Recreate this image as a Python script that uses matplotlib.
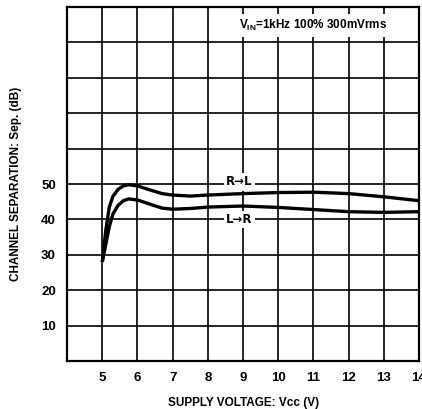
import matplotlib
matplotlib.use("Agg")
import matplotlib.pyplot as plt

# supply voltage (V) and channel separation (dB)
vcc = [5.0, 5.1, 5.2, 5.3, 5.45, 5.6, 5.75, 6.0, 6.3, 6.7, 7.0, 7.5, 8.0, 9.0, 10.0, 11.0, 12.0, 13.0, 14.0]
sep_rl = [28, 37, 43.5, 46.5, 48.5, 49.5, 49.8, 49.5, 48.5, 47.3, 46.9, 46.6, 46.9, 47.3, 47.6, 47.7, 47.3, 46.4, 45.3]
sep_lr = [28, 33, 38, 41.5, 44, 45.3, 45.8, 45.5, 44.5, 43.2, 42.9, 43.1, 43.5, 43.8, 43.4, 42.8, 42.2, 42.0, 42.2]

x_ticks = [5, 6, 7, 8, 9, 10, 11, 12, 13, 14]
y_ticks = [0, 10, 20, 30, 40, 50, 60, 70, 80, 90, 100]
y_labels = ["", "10", "20", "30", "40", "50", "", "", "", "", ""]

plt.rcParams['font.family'] = ['Liberation Sans Narrow', 'Liberation Sans', 'DejaVu Sans']
plt.rcParams['font.weight'] = 'bold'
plt.rcParams['axes.labelweight'] = 'bold'

fig = plt.figure(figsize=(4.22, 4.09), dpi=100)
ax = fig.add_axes([0.159, 0.117, 0.834, 0.866])

ax.plot(vcc, sep_rl, color="black", lw=2.4, solid_capstyle="butt", zorder=3)
ax.plot(vcc, sep_lr, color="black", lw=2.4, solid_capstyle="butt", zorder=3)

ax.set_xlim(4, 14)
ax.set_ylim(0, 100)
ax.set_xticks(x_ticks)
ax.set_xticklabels([str(v) for v in x_ticks])
ax.set_yticks(y_ticks)
ax.set_yticklabels(y_labels)
ax.tick_params(length=0, labelsize=9.5, pad=8)
ax.grid(True, color="black", lw=1.2)
for s in ax.spines.values():
    s.set_linewidth(1.6)

arrow_fonts = ['DejaVu Sans']
box = dict(facecolor="white", edgecolor="none", pad=1.5)
ax.text(8.9, 50.6, "R→L", ha="center", va="center", fontsize=8.5, family=arrow_fonts,
        bbox=box, zorder=4)
ax.text(8.9, 40, "L→R", ha="center", va="center", fontsize=8.5, family=arrow_fonts,
        bbox=box, zorder=4)
ax.text(11.0, 94.8, r"V$_{\mathregular{IN}}$=1kHz 100% 300mVrms", ha="center", va="center",
        fontsize=8.5, bbox=dict(facecolor="white", edgecolor="none", pad=3), zorder=4)

ax.set_xlabel("SUPPLY VOLTAGE: Vcc (V)", fontsize=8.5, labelpad=9)
ax.set_ylabel("CHANNEL SEPARATION: Sep. (dB)", fontsize=8.5, labelpad=14)

fig.savefig("out.png", dpi=100)
